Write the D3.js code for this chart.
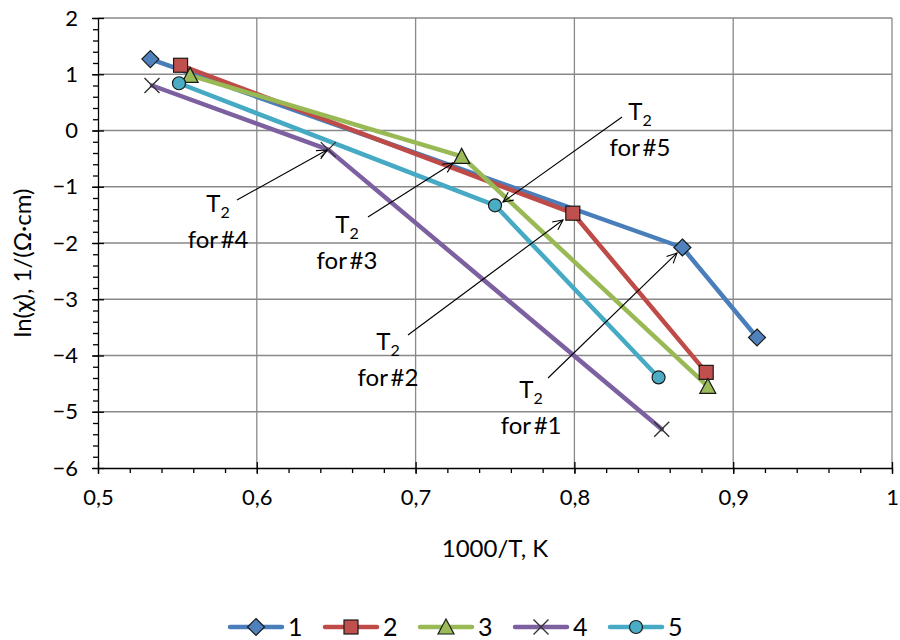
<!DOCTYPE html>
<html>
<head>
<meta charset="utf-8">
<script src="https://cdn.jsdelivr.net/npm/d3@7/dist/d3.min.js"></script>
<style>
  html, body { margin: 0; padding: 0; background: #fff; }
  svg { display: block; font-family: Lato, "Open Sans", sans-serif; }
</style>
</head>
<body>
<div id="chart"></div>
<script>
// Данные: 1000/T (x) и ln(χ) (y) для пяти образцов
const seriesNames = ['1', '2', '3', '4', '5'];
const xs1 = [0.533, 0.868, 0.915];
const ys1 = [1.27, -2.08, -3.68];
const xs2 = [0.552, 0.799, 0.883];
const ys2 = [1.16, -1.47, -4.30];
const xs3 = [0.558, 0.729, 0.884];
const ys3 = [0.98, -0.46, -4.55];
const xs4 = [0.534, 0.645, 0.855];
const ys4 = [0.80, -0.34, -5.31];
const xs5 = [0.551, 0.750, 0.853];
const ys5 = [0.84, -1.33, -4.39];

const xTicks = [0.5, 0.6, 0.7, 0.8, 0.9, 1.0];
const yTicks = [2, 1, 0, -1, -2, -3, -4, -5, -6];

// Подписи T2: хвост стрелки, острие, положение текста (в единицах осей)
const annoNames = ['#4', '#3', '#5', '#2', '#1'];
const annoTail = [[0.5875, -1.236], [0.670, -1.538], [0.830, 0.24], [0.6952, -3.636], [0.7834, -4.40]];
const annoHead = [[0.6442, -0.347], [0.7236, -0.578], [0.755, -1.271], [0.7928, -1.591], [0.8646, -2.178]];
const annoText = [[0.5756, -1.45], [0.6568, -1.82], [0.8413, 0.19], [0.6826, -3.90], [0.7727, -4.756]];

const COLORS = ['#4a7ebb', '#be4b48', '#98b954', '#7d60a0', '#46aac5'];
const FILLS = ['#4f81bd', '#c0504d', '#9bbb59', '#8064a2', '#4bacc6'];
const SHAPES = ['diamond', 'square', 'triangle', 'cross', 'circle'];

const width = 900, height = 640;
const margin = { left: 98, right: 8, top: 18, bottom: 172 };

const svg = d3.select('#chart').append('svg')
  .attr('width', width)
  .attr('height', height);

const x = d3.scaleLinear().domain([0.5, 1.0]).range([margin.left, width - margin.right]);
const y = d3.scaleLinear().domain([-6, 2]).range([height - margin.bottom, margin.top]);

const fmt = d => (Math.round(d * 10) / 10).toString().replace('.', ',');

// Сетка
const grid = svg.append('g').attr('stroke', '#898989').attr('stroke-width', 1.3);
grid.selectAll('.gx').data(xTicks.slice(1)).join('line')
  .attr('x1', d => x(d)).attr('x2', d => x(d))
  .attr('y1', y(-6)).attr('y2', y(2));
grid.selectAll('.gy').data(yTicks.slice(0, -1)).join('line')
  .attr('x1', x(0.5)).attr('x2', x(1.0))
  .attr('y1', d => y(d)).attr('y2', d => y(d));

// Оси
const xMinor = d3.range(0.5, 1.0001, 0.02);
const yMinor = d3.range(-6, 2.0001, 0.2);

const xAxisG = svg.append('g').attr('transform', `translate(0,${y(-6)})`);
xAxisG.call(d3.axisBottom(x).tickValues(xMinor).tickSize(5).tickFormat(''))
  .call(g => g.select('.domain').remove());
xAxisG.append('g')
  .call(d3.axisBottom(x).tickValues(xTicks).tickSizeInner(6).tickSizeOuter(0).tickPadding(15).tickFormat(fmt))
  .call(g => g.selectAll('.tick line').attr('y1', -6))
  .call(g => g.selectAll('text').attr('font-size', 22).attr('fill', '#000').attr('font-family', 'Lato, sans-serif'));
xAxisG.selectAll('line, path').attr('stroke', '#000').attr('stroke-width', 1.3);

const yAxisG = svg.append('g').attr('transform', `translate(${x(0.5)},0)`);
yAxisG.call(d3.axisLeft(y).tickValues(yMinor).tickSize(5).tickFormat(''))
  .call(g => g.select('.domain').remove());
yAxisG.append('g')
  .call(d3.axisLeft(y).tickValues(yTicks).tickSizeInner(6).tickSizeOuter(0).tickPadding(14).tickFormat(d3.format('d')))
  .call(g => g.selectAll('.tick line').attr('x1', 6))
  .call(g => g.selectAll('text').attr('font-size', 22).attr('fill', '#000').attr('font-family', 'Lato, sans-serif'));
yAxisG.selectAll('line, path').attr('stroke', '#000').attr('stroke-width', 1.3);

// Заголовки осей
svg.append('text')
  .attr('x', x(0.75)).attr('y', 557)
  .attr('text-anchor', 'middle')
  .attr('font-size', 24)
  .text('1000/T, K');

svg.append('text')
  .attr('transform', `translate(31,${(y(2) + y(-6)) / 2 + 20}) rotate(-90)`)
  .attr('text-anchor', 'middle')
  .attr('font-size', 24)
  .text('ln(χ), 1/(Ω·cm)');

// Маркеры
function drawMarker(g, shape, cx, cy, fill) {
  const st = { stroke: '#1a1a1a', 'stroke-width': 1.2 };
  let el;
  if (shape === 'diamond') {
    el = g.append('path').attr('d', `M${cx},${cy - 8.5}L${cx + 8.5},${cy}L${cx},${cy + 8.5}L${cx - 8.5},${cy}Z`);
  } else if (shape === 'square') {
    el = g.append('rect').attr('x', cx - 7).attr('y', cy - 7).attr('width', 14).attr('height', 14);
  } else if (shape === 'triangle') {
    el = g.append('path').attr('d', `M${cx},${cy - 8}L${cx + 8},${cy + 7}L${cx - 8},${cy + 7}Z`);
  } else if (shape === 'cross') {
    el = g.append('path').attr('d', `M${cx - 7.5},${cy - 7.5}L${cx + 7.5},${cy + 7.5}M${cx + 7.5},${cy - 7.5}L${cx - 7.5},${cy + 7.5}`)
      .attr('fill', 'none');
    st.stroke = '#333'; st['stroke-width'] = 1.4;
  } else {
    el = g.append('circle').attr('cx', cx).attr('cy', cy).attr('r', 6.5);
  }
  if (shape !== 'cross') el.attr('fill', fill);
  Object.entries(st).forEach(([k, v]) => el.attr(k, v));
}

const allX = [xs1, xs2, xs3, xs4, xs5];
const allY = [ys1, ys2, ys3, ys4, ys5];
const line = d3.line().x(d => x(d[0])).y(d => y(d[1]));

const seriesG = svg.append('g');
allX.forEach((xsArr, i) => {
  const pts = xsArr.map((v, j) => [v, allY[i][j]]);
  seriesG.append('path')
    .datum(pts)
    .attr('d', line)
    .attr('fill', 'none')
    .attr('stroke', COLORS[i])
    .attr('stroke-width', 4.5)
    .attr('stroke-linejoin', 'round')
    .attr('stroke-linecap', 'round');
});
allX.forEach((xsArr, i) => {
  xsArr.forEach((v, j) => drawMarker(seriesG, SHAPES[i], x(v), y(allY[i][j]), FILLS[i]));
});

// Стрелки T2
const annoG = svg.append('g');
annoNames.forEach((name, i) => {
  const x0 = x(annoTail[i][0]), y0 = y(annoTail[i][1]);
  const x1 = x(annoHead[i][0]), y1 = y(annoHead[i][1]);
  const ang = Math.atan2(y1 - y0, x1 - x0);
  const len = 11, spread = 0.45;
  annoG.append('line')
    .attr('x1', x0).attr('y1', y0).attr('x2', x1).attr('y2', y1)
    .attr('stroke', '#000').attr('stroke-width', 1.1);
  annoG.append('path')
    .attr('d', `M${x1 - len * Math.cos(ang - spread)},${y1 - len * Math.sin(ang - spread)}L${x1},${y1}L${x1 - len * Math.cos(ang + spread)},${y1 - len * Math.sin(ang + spread)}`)
    .attr('fill', 'none').attr('stroke', '#000').attr('stroke-width', 1.1);

  const tx = x(annoText[i][0]), ty = y(annoText[i][1]);
  const t = annoG.append('text')
    .attr('x', tx).attr('y', ty)
    .attr('text-anchor', 'middle')
    .attr('font-size', 24);
  t.append('tspan').text('T');
  t.append('tspan').attr('font-size', 16).attr('dy', 6).text('2');
  annoG.append('text')
    .attr('x', tx).attr('y', ty + 36)
    .attr('text-anchor', 'middle')
    .attr('font-size', 24)
    .attr('word-spacing', -3)
    .text('for ' + name);
});

// Легенда
const legend = svg.append('g').attr('transform', 'translate(230,627)');
seriesNames.forEach((name, i) => {
  const g = legend.append('g').attr('transform', `translate(${i * 95},0)`);
  g.append('line')
    .attr('x1', 0).attr('x2', 52).attr('y1', 0).attr('y2', 0)
    .attr('stroke', COLORS[i]).attr('stroke-width', 4.5)
    .attr('stroke-linecap', 'round');
  drawMarker(g, SHAPES[i], 26, 0, FILLS[i]);
  g.append('text')
    .attr('x', 58).attr('y', 9)
    .attr('font-size', 25)
    .text(name);
});
</script>
</body>
</html>
